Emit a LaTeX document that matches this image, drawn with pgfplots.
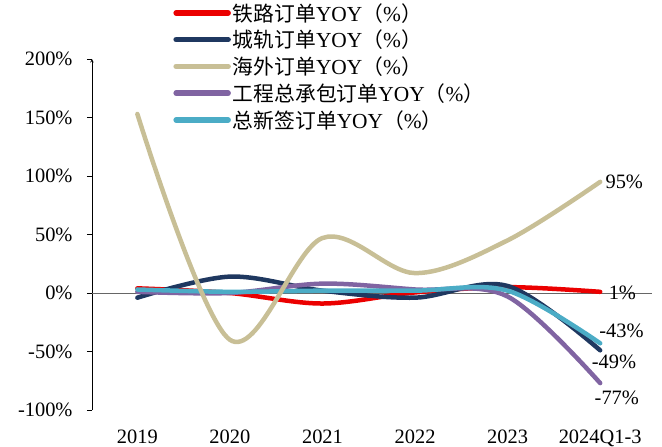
\documentclass[border=0pt]{standalone}
\usepackage{pgfplots}
\pgfplotsset{compat=1.18}
\usepackage{fontspec}
\setmainfont{Liberation Serif}
\newfontfamily\cjk[Scale=0.97]{Noto Sans CJK SC}
\definecolor{cred}{RGB}{235,0,0}
\definecolor{cblue}{RGB}{31,56,96}
\definecolor{ckhaki}{RGB}{200,191,150}
\definecolor{cpurple}{RGB}{128,100,162}
\definecolor{ccyan}{RGB}{75,172,198}
\newcommand{\pct}{{\cjk （}\%{\cjk ）}}
\begin{document}
\begin{tikzpicture}
\useasboundingbox (-92bp,-37bp) rectangle (570bp,410bp);
\begin{axis}[
  scale only axis, width=560bp, height=351bp,
  xmin=-0.49, xmax=5.56, ymin=-100, ymax=200,
  axis lines=left,
  x axis line style={draw=none},
  y axis line style={black, line width=0.6pt},
  ytick={-100,-50,0,50,100,150,200},
  yticklabels={-100\%,-50\%,0\%,50\%,100\%,150\%,200\%},
  xtick={0,1,2,3,4,5},
  xticklabels={2019,2020,2021,2022,2023,2024Q1-3},
  xtick style={draw=none},
  ytick style={black, line width=0.6pt},
  tick align=outside, major tick length=5bp,
  ticklabel style={font=\fontsize{20.5}{24}\selectfont},
  yticklabel style={xshift=-11bp},
  xticklabel style={yshift=-11bp},
  clip=false,
  legend style={draw=none, fill=none, at={(rel axis cs:0.145,1.165)}, anchor=north west,
    font=\fontsize{21.5}{25}\selectfont, row sep=3.5bp, inner sep=0pt,
    /tikz/every even column/.append style={column sep=4bp}},
  legend cell align=left,
  legend image code/.code={\draw[#1, line width=5.5bp, line cap=round] (0bp,0bp) -- (52bp,0bp);},
]
\draw[gray!80!black, line width=0.8pt] (axis cs:-0.49,0) -- (axis cs:5.56,0);
\addlegendimage{cred}
\addlegendentry{{\cjk 铁路订单}YOY\pct}
\addlegendimage{cblue}
\addlegendentry{{\cjk 城轨订单}YOY\pct}
\addlegendimage{ckhaki}
\addlegendentry{{\cjk 海外订单}YOY\pct}
\addlegendimage{cpurple}
\addlegendentry{{\cjk 工程总承包订单}YOY\pct}
\addlegendimage{ccyan}
\addlegendentry{{\cjk 总新签订单}YOY\pct}
\pgfplotsset{every axis plot/.append style={line width=4.5bp, smooth, tension=0.55, line cap=round, forget plot}}
\addplot[cred] coordinates {(0,4) (1,0) (2,-9) (3,0.5) (4,5) (5,1)};
\addplot[cblue] coordinates {(0,-4) (1,14) (2,2) (3,-4) (4,6) (5,-49)};
\addplot[cpurple] coordinates {(0,1) (1,0) (2,8) (3,3) (4,-3) (5,-77)};
\addplot[ccyan] coordinates {(0,3) (1,1) (2,2) (3,2) (4,2) (5,-43)};
\addplot[ckhaki] coordinates {(0,153) (1,-40) (2,47) (3,17) (4,45) (5,95)};
\node[anchor=west, font=\fontsize{20.5}{24}\selectfont] at (axis cs:5.02,95) {95\%};
\node[font=\fontsize{20.5}{24}\selectfont] at (axis cs:5.24,0) {1\%};
\node[font=\fontsize{20.5}{24}\selectfont] at (axis cs:5.23,-32) {-43\%};
\node[font=\fontsize{20.5}{24}\selectfont] at (axis cs:5.15,-59) {-49\%};
\node[font=\fontsize{20.5}{24}\selectfont] at (axis cs:5.18,-90) {-77\%};
\end{axis}
\end{tikzpicture}
\end{document}
